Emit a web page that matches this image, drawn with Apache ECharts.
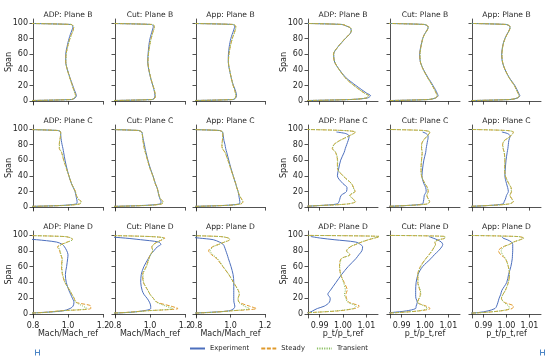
<!DOCTYPE html>
<html><head><meta charset="utf-8">
<script src="https://cdn.jsdelivr.net/npm/echarts@6/dist/echarts.min.js"></script>
<style>html,body{margin:0;padding:0;background:#fff}#c{width:550px;height:362px}</style>
</head><body><div id="c"></div>
<script>
// Spanwise stations (% span) shared by all profiles
const SPAN = [0.5, 2, 4, 7, 10, 15, 20, 25, 30, 40, 50, 60, 70, 75, 80, 85, 88, 91, 94, 96, 98, 99.5];

// Row 1: Plane B
const adpB_mach_exp = [0.70, 1.020, 1.040, 1.048, 1.044, 1.035, 1.027, 1.019, 1.011, 0.997, 0.987, 0.987, 0.995, 1.000, 1.006, 1.013, 1.018, 1.023, 1.027, 1.027, 1.017, 0.70];
const adpB_mach_std = [0.70, 1.020, 1.036, 1.044, 1.040, 1.032, 1.025, 1.017, 1.010, 0.996, 0.987, 0.989, 0.998, 1.004, 1.011, 1.019, 1.025, 1.030, 1.032, 1.030, 1.019, 0.70];
const adpB_mach_tr  = [0.70, 1.020, 1.036, 1.043, 1.039, 1.031, 1.024, 1.017, 1.010, 0.996, 0.988, 0.990, 0.999, 1.005, 1.012, 1.020, 1.026, 1.031, 1.033, 1.030, 1.019, 0.70];
const cutB_mach_exp = [0.70, 1.013, 1.025, 1.028, 1.027, 1.022, 1.016, 1.009, 1.003, 0.993, 0.987, 0.989, 0.993, 0.996, 1.000, 1.006, 1.010, 1.014, 1.018, 1.019, 1.008, 0.70];
const cutB_mach_std = [0.70, 1.015, 1.028, 1.031, 1.029, 1.024, 1.017, 1.010, 1.004, 0.994, 0.988, 0.991, 0.997, 1.001, 1.006, 1.012, 1.016, 1.020, 1.024, 1.025, 1.012, 0.70];
const cutB_mach_tr  = [0.70, 1.015, 1.028, 1.031, 1.029, 1.024, 1.017, 1.010, 1.004, 0.994, 0.988, 0.991, 0.998, 1.002, 1.007, 1.013, 1.017, 1.021, 1.025, 1.025, 1.012, 0.70];
const appB_mach_exp = [0.70, 1.015, 1.030, 1.035, 1.033, 1.026, 1.017, 1.010, 1.004, 0.994, 0.987, 0.988, 0.993, 0.997, 1.002, 1.009, 1.014, 1.019, 1.023, 1.024, 1.012, 0.70];
const appB_mach_std = [0.70, 1.015, 1.027, 1.031, 1.029, 1.023, 1.015, 1.009, 1.004, 0.995, 0.988, 0.991, 0.999, 1.004, 1.010, 1.018, 1.023, 1.027, 1.030, 1.030, 1.015, 0.70];
const appB_mach_tr  = [0.70, 1.015, 1.027, 1.031, 1.029, 1.023, 1.015, 1.009, 1.004, 0.995, 0.988, 0.991, 0.999, 1.005, 1.011, 1.019, 1.024, 1.028, 1.031, 1.030, 1.015, 0.70];
const adpB_pt_exp = [0.980, 1.003, 1.0105, 1.0118, 1.0102, 1.0078, 1.0055, 1.0033, 1.0012, 0.9985, 0.9964, 0.9960, 0.9980, 0.9995, 1.0010, 1.0027, 1.0034, 1.0035, 1.0029, 1.0014, 0.9995, 0.980];
const adpB_pt_std = [0.980, 1.003, 1.0100, 1.0110, 1.0093, 1.0069, 1.0047, 1.0026, 1.0009, 0.9984, 0.9964, 0.9959, 0.9980, 0.9994, 1.0009, 1.0026, 1.0033, 1.0037, 1.0031, 1.0016, 0.9997, 0.980];
const adpB_pt_tr  = [0.980, 1.003, 1.0100, 1.0108, 1.0092, 1.0068, 1.0046, 1.0026, 1.0009, 0.9984, 0.9965, 0.9960, 0.9980, 0.9994, 1.0009, 1.0026, 1.0033, 1.0037, 1.0031, 1.0016, 0.9997, 0.980];
const cutB_pt_exp = [0.980, 1.0015, 1.0046, 1.0056, 1.0052, 1.0044, 1.0034, 1.0024, 1.0013, 0.9994, 0.9980, 0.9977, 0.9982, 0.9986, 0.9990, 0.9997, 1.0003, 1.0009, 1.0013, 1.0011, 0.9997, 0.980];
const cutB_pt_std = [0.980, 1.0015, 1.0045, 1.0053, 1.0048, 1.0040, 1.0031, 1.0021, 1.0011, 0.9993, 0.9980, 0.9978, 0.9983, 0.9986, 0.9990, 0.9997, 1.0003, 1.0010, 1.0014, 1.0012, 0.9998, 0.980];
const cutB_pt_tr  = [0.980, 1.0015, 1.0044, 1.0052, 1.0048, 1.0040, 1.0031, 1.0021, 1.0011, 0.9993, 0.9981, 0.9979, 0.9983, 0.9987, 0.9991, 0.9998, 1.0004, 1.0010, 1.0014, 1.0012, 0.9998, 0.980];
const appB_pt_exp = [0.980, 1.0015, 1.0049, 1.0058, 1.0053, 1.0045, 1.0036, 1.0024, 1.0012, 0.9994, 0.9982, 0.9979, 0.9983, 0.9987, 0.9993, 1.0001, 1.0007, 1.0012, 1.0015, 1.0013, 0.9999, 0.980];
const appB_pt_std = [0.980, 1.0015, 1.0047, 1.0055, 1.0050, 1.0042, 1.0034, 1.0022, 1.0011, 0.9994, 0.9983, 0.9980, 0.9984, 0.9988, 0.9994, 1.0002, 1.0008, 1.0013, 1.0016, 1.0014, 1.0000, 0.980];
const appB_pt_tr  = [0.980, 1.0015, 1.0046, 1.0054, 1.0050, 1.0042, 1.0034, 1.0022, 1.0011, 0.9994, 0.9983, 0.9980, 0.9984, 0.9988, 0.9994, 1.0002, 1.0008, 1.0013, 1.0016, 1.0014, 1.0000, 0.980];

// Row 2: Plane C
const adpC_mach_exp = [0.70, 0.95, 1.048, 1.052, 1.050, 1.045, 1.040, 1.030, 1.020, 1.005, 0.993, 0.983, 0.975, 0.971, 0.966, 0.962, 0.960, 0.959, 0.958, 0.958, 0.940, 0.70];
const adpC_mach_std = [0.70, 0.97, 1.068, 1.076, 1.060, 1.048, 1.042, 1.031, 1.020, 1.005, 0.990, 0.975, 0.963, 0.950, 0.950, 0.952, 0.955, 0.957, 0.958, 0.958, 0.940, 0.70];
const adpC_mach_tr  = [0.70, 0.97, 1.066, 1.074, 1.059, 1.048, 1.042, 1.031, 1.020, 1.005, 0.990, 0.976, 0.964, 0.952, 0.951, 0.953, 0.955, 0.957, 0.958, 0.958, 0.940, 0.70];
const cutC_mach_exp = [0.70, 0.95, 1.058, 1.063, 1.058, 1.050, 1.046, 1.040, 1.031, 1.017, 1.001, 0.988, 0.977, 0.972, 0.968, 0.963, 0.960, 0.958, 0.956, 0.953, 0.935, 0.70];
const cutC_mach_std = [0.70, 0.97, 1.068, 1.075, 1.062, 1.052, 1.046, 1.040, 1.030, 1.016, 0.999, 0.986, 0.973, 0.967, 0.963, 0.960, 0.958, 0.957, 0.955, 0.952, 0.935, 0.70];
const cutC_mach_tr  = [0.70, 0.97, 1.066, 1.073, 1.061, 1.052, 1.046, 1.040, 1.030, 1.016, 0.999, 0.986, 0.974, 0.968, 0.964, 0.960, 0.958, 0.957, 0.955, 0.952, 0.935, 0.70];
const appC_mach_exp = [0.70, 0.95, 1.050, 1.054, 1.052, 1.048, 1.044, 1.037, 1.030, 1.016, 1.002, 0.990, 0.978, 0.972, 0.968, 0.962, 0.960, 0.958, 0.956, 0.954, 0.935, 0.70];
const appC_mach_std = [0.70, 0.96, 1.060, 1.073, 1.065, 1.052, 1.044, 1.036, 1.030, 1.015, 1.000, 0.985, 0.968, 0.952, 0.950, 0.953, 0.954, 0.955, 0.955, 0.954, 0.935, 0.70];
const appC_mach_tr  = [0.70, 0.96, 1.058, 1.071, 1.064, 1.052, 1.044, 1.036, 1.030, 1.015, 1.000, 0.985, 0.969, 0.954, 0.951, 0.953, 0.954, 0.955, 0.955, 0.954, 0.935, 0.70];
const adpC_pt_exp = [0.980, 0.990, 0.9975, 0.9983, 0.9986, 0.9992, 1.0015, 1.0017, 1.0000, 0.9976, 0.9982, 0.9990, 1.0005, 1.0010, 1.0016, 1.0022, 1.0025, 1.0026, 1.0012, 0.9972, null, null];
const adpC_pt_std = [0.980, 0.990, 1.002, 1.0054, 1.0045, 1.0030, 1.0052, 1.0045, 1.0037, 1.0000, 0.9976, 0.9976, 0.9968, 0.9954, 0.9961, 0.9985, 1.0005, 1.0025, 1.0045, 1.0054, 1.0000, 0.980];
const adpC_pt_tr  = [0.980, 0.990, 1.002, 1.0052, 1.0044, 1.0028, 1.0050, 1.0044, 1.0036, 1.0000, 0.9977, 0.9977, 0.9969, 0.9956, 0.9962, 0.9986, 1.0006, 1.0026, 1.0046, 1.0053, 1.0000, 0.980];
const cutC_pt_exp = [0.980, 0.992, 0.9990, 0.9993, 0.9995, 0.9997, 1.0005, 1.0003, 0.9995, 0.9987, 0.9990, 0.9995, 1.0003, 1.0005, 1.0008, 1.0011, 1.0013, 1.0013, 1.0005, 0.9990, null, null];
const cutC_pt_std = [0.980, 0.992, 1.001, 1.0020, 1.0015, 1.0008, 1.0014, 1.0010, 1.0000, 0.9985, 0.9983, 0.9985, 0.9988, 0.9985, 0.9985, 0.9992, 1.0000, 1.0010, 1.0018, 1.0021, 0.9995, 0.980];
const cutC_pt_tr  = [0.980, 0.992, 1.001, 1.0019, 1.0015, 1.0008, 1.0013, 1.0010, 1.0000, 0.9985, 0.9983, 0.9985, 0.9988, 0.9986, 0.9986, 0.9993, 1.0001, 1.0010, 1.0018, 1.0021, 0.9995, 0.980];
const appC_pt_exp = [0.980, 0.992, 0.9985, 0.9990, 0.9995, 1.0000, 1.0008, 1.0005, 1.0000, 0.9993, 0.9995, 0.9998, 1.0003, 1.0006, 1.0008, 1.0010, 1.0013, 1.0016, 1.0005, 0.9980, null, null];
const appC_pt_std = [0.980, 0.992, 1.001, 1.0030, 1.0025, 1.0015, 1.0022, 1.0020, 1.0010, 0.9995, 0.9992, 0.9993, 0.9990, 0.9985, 0.9983, 0.9990, 1.0005, 1.0018, 1.0027, 1.0030, 1.0000, 0.980];
const appC_pt_tr  = [0.980, 0.992, 1.001, 1.0029, 1.0024, 1.0015, 1.0021, 1.0019, 1.0010, 0.9995, 0.9992, 0.9993, 0.9990, 0.9986, 0.9984, 0.9991, 1.0005, 1.0018, 1.0027, 1.0030, 1.0000, 0.980];

// Row 3: Plane D
const adpD_mach_exp = [0.70, 0.85, 0.97, 1.012, 1.029, 1.034, 1.025, 1.015, 1.005, 0.990, 0.985, 0.992, 0.998, 1.000, 0.993, 0.980, 0.968, 0.935, 0.820, 0.70, 0.70, 0.70];
const adpD_mach_std = [0.70, 0.86, 0.95, 1.130, 1.130, 1.045, 1.035, 1.022, 1.010, 0.982, 0.968, 0.963, 0.966, 0.958, 0.952, 0.940, 0.962, 0.995, 1.025, 1.020, 0.980, 0.70];
const adpD_mach_tr  = [0.70, 0.87, 0.96, 1.110, 1.085, 1.045, 1.035, 1.022, 1.010, 0.983, 0.970, 0.965, 0.967, 0.960, 0.955, 0.945, 0.965, 0.998, 1.025, 1.020, 0.980, 0.70];
const cutD_mach_exp = [0.70, 0.87, 0.96, 1.004, 1.004, 0.997, 0.983, 0.965, 0.955, 0.947, 0.950, 0.965, 0.990, 1.003, 1.022, 1.042, 1.062, 1.050, 0.946, 0.860, 0.750, 0.70];
const cutD_mach_std = [0.70, 0.86, 0.97, 1.160, 1.120, 1.040, 1.019, 1.000, 0.988, 0.962, 0.958, 0.978, 0.993, 1.002, 1.015, 1.010, 1.020, 1.040, 1.070, 1.085, 1.000, 0.70];
const cutD_mach_tr  = [0.70, 0.87, 0.98, 1.130, 1.090, 1.038, 1.018, 1.000, 0.988, 0.964, 0.960, 0.980, 0.995, 1.004, 1.015, 1.012, 1.022, 1.042, 1.068, 1.080, 1.000, 0.70];
const appD_mach_exp = [0.70, 0.86, 0.99, 1.020, 1.025, 1.020, 1.019, 1.019, 1.019, 1.019, 1.015, 1.003, 0.988, 0.981, 0.973, 0.965, 0.958, 0.936, 0.900, 0.820, 0.740, 0.70];
const appD_mach_std = [0.70, 0.88, 1.00, 1.150, 1.110, 1.050, 1.044, 1.052, 1.045, 1.018, 0.990, 0.955, 0.920, 0.890, 0.873, 0.895, 0.930, 0.965, 0.995, 0.990, 0.940, 0.70];
const appD_mach_tr  = [0.70, 0.88, 1.00, 1.110, 1.080, 1.048, 1.044, 1.050, 1.044, 1.016, 0.990, 0.958, 0.925, 0.898, 0.882, 0.900, 0.932, 0.965, 0.993, 0.990, 0.940, 0.70];
const adpD_pt_exp = [0.980, 0.9855, 0.9870, 0.9890, 0.9920, 0.9942, 0.9945, 0.9935, 0.9946, 0.9970, 0.9994, 1.0022, 1.0055, 1.0068, 1.0081, 1.0084, 1.0075, 1.0055, 0.9962, 0.9904, 0.9862, null];
const adpD_pt_std = [0.980, 0.987, 0.998, 1.0050, 1.0070, 1.0025, 1.0015, 1.0012, 1.0018, 1.0005, 0.9990, 0.9985, 0.9992, 1.0030, 1.0015, 1.0032, 1.0055, 1.0080, 1.0110, 1.0135, 1.0160, 0.980];
const adpD_pt_tr  = [0.980, 0.987, 0.997, 1.0045, 1.0056, 1.0020, 1.0012, 1.0006, 1.0010, 1.0002, 0.9990, 0.9986, 0.9994, 1.0028, 1.0016, 1.0030, 1.0053, 1.0078, 1.0108, 1.0133, 1.0160, 0.980];
const cutD_pt_exp = [0.980, 0.9860, 0.9920, 0.9960, 0.9962, 0.9967, 0.9961, 0.9960, 0.9960, 0.9962, 0.9970, 0.9990, 1.0025, 1.0040, 1.0058, 1.0072, 1.0076, 1.0070, 1.0052, 1.0035, 1.0017, null];
const cutD_pt_std = [0.980, 0.989, 0.9975, 1.0022, 1.0005, 0.9968, 0.9975, 0.9980, 0.9978, 0.9969, 0.9969, 0.9980, 1.0003, 1.0017, 1.0030, 1.0040, 1.0045, 1.0042, 1.0060, 1.0085, 1.0085, 0.980];
const cutD_pt_tr  = [0.980, 0.989, 0.997, 1.0010, 0.9998, 0.9968, 0.9975, 0.9982, 0.9980, 0.9970, 0.9970, 0.9982, 1.0004, 1.0018, 1.0030, 1.0040, 1.0045, 1.0042, 1.0060, 1.0085, 1.0085, 0.980];
const appD_pt_exp = [0.980, 0.9880, 0.9920, 0.9950, 0.9957, 0.9963, 0.9968, 0.9975, 0.9980, 1.0001, 1.0009, 1.0019, 1.0025, 1.0026, 1.0027, 1.0027, 1.0027, 1.0022, 1.0003, 0.9985, 0.9980, null];
const appD_pt_std = [0.980, 0.990, 0.9975, 1.0025, 1.0030, 0.9990, 0.9978, 0.9985, 0.9995, 1.0008, 1.0013, 1.0008, 0.9995, 0.9975, 0.9965, 0.9985, 1.0012, 1.0030, 1.0060, 1.0075, 1.0050, 0.980];
const appD_pt_tr  = [0.980, 0.990, 0.9972, 1.0012, 1.0010, 0.9988, 0.9978, 0.9985, 0.9995, 1.0008, 1.0013, 1.0008, 0.9996, 0.9983, 0.9977, 0.9988, 1.0012, 1.0030, 1.0060, 1.0075, 1.0050, 0.980];

// Axis ticks
const SPAN_TICKS = [0, 20, 40, 60, 80, 100];
const MACH_TICKS = [0.8, 1.0, 1.2];
const PT_TICKS = [0.99, 1.00, 1.01];
const SERIES_NAMES = ['Experiment', 'Steady', 'Transient'];

const panels = [
  ['ADP: Plane B','mach',adpB_mach_exp,adpB_mach_std,adpB_mach_tr],
  ['Cut: Plane B','mach',cutB_mach_exp,cutB_mach_std,cutB_mach_tr],
  ['App: Plane B','mach',appB_mach_exp,appB_mach_std,appB_mach_tr],
  ['ADP: Plane B','pt',adpB_pt_exp,adpB_pt_std,adpB_pt_tr],
  ['Cut: Plane B','pt',cutB_pt_exp,cutB_pt_std,cutB_pt_tr],
  ['App: Plane B','pt',appB_pt_exp,appB_pt_std,appB_pt_tr],
  ['ADP: Plane C','mach',adpC_mach_exp,adpC_mach_std,adpC_mach_tr],
  ['Cut: Plane C','mach',cutC_mach_exp,cutC_mach_std,cutC_mach_tr],
  ['App: Plane C','mach',appC_mach_exp,appC_mach_std,appC_mach_tr],
  ['ADP: Plane C','pt',adpC_pt_exp,adpC_pt_std,adpC_pt_tr],
  ['Cut: Plane C','pt',cutC_pt_exp,cutC_pt_std,cutC_pt_tr],
  ['App: Plane C','pt',appC_pt_exp,appC_pt_std,appC_pt_tr],
  ['ADP: Plane D','mach',adpD_mach_exp,adpD_mach_std,adpD_mach_tr],
  ['Cut: Plane D','mach',cutD_mach_exp,cutD_mach_std,cutD_mach_tr],
  ['App: Plane D','mach',appD_mach_exp,appD_mach_std,appD_mach_tr],
  ['ADP: Plane D','pt',adpD_pt_exp,adpD_pt_std,adpD_pt_tr],
  ['Cut: Plane D','pt',cutD_pt_exp,cutD_pt_std,cutD_pt_tr],
  ['App: Plane D','pt',appD_pt_exp,appD_pt_std,appD_pt_tr]
];

const colLeft = [33, 115, 196, 308, 390, 472];
const colW = [70, 70, 69, 70, 70, 69];
const rowTop = [19, 125, 231];
const rowH = [86, 86, 87];
const titleY = [11.5, 117.5, 223.5];
const INK = '#262626';
const FONT = 'DejaVu Sans';
const COLORS = ['#4c6fbd', '#e09a2c', '#8cc063'];
const TYPES = ['solid', [4, 1.6], [1.2, 1.2]];

const grid = [], xAxis = [], yAxis = [], series = [], title = [];
panels.forEach((p, i) => {
  const r = Math.floor(i / 6), c = i % 6;
  grid.push({left: colLeft[c], top: rowTop[r], width: colW[c], height: rowH[r], containLabel: false});
  const isMach = p[1] === 'mach';
  const ticks = isMach ? MACH_TICKS : PT_TICKS;
  xAxis.push({
    type: 'value', gridIndex: i,
    min: isMach ? 0.8 : 0.985, max: isMach ? 1.2 : 1.015,
    axisLine: {show: true, lineStyle: {color: INK, width: 0.8}},
    axisTick: {show: true, length: 3.5, customValues: ticks, lineStyle: {color: INK, width: 0.8}},
    axisLabel: {show: r === 2, customValues: ticks, margin: 4, fontSize: 8, color: INK, fontFamily: FONT,
      formatter: v => isMach ? v.toFixed(1) : v.toFixed(2)},
    splitLine: {show: false},
    name: r === 2 ? (isMach ? 'Mach/Mach_ref' : 'p_t/p_t,ref') : '',
    nameLocation: 'middle', nameGap: 12, nameMoveOverlap: false,
    nameTextStyle: {fontSize: 8, color: INK, fontFamily: FONT}
  });
  const lab = (c === 0 || c === 3);
  yAxis.push({
    type: 'value', gridIndex: i, min: -5, max: 105,
    axisLine: {show: true, lineStyle: {color: INK, width: 0.8}},
    axisTick: {show: true, length: 3.5, customValues: SPAN_TICKS, lineStyle: {color: INK, width: 0.8}},
    axisLabel: {show: lab, customValues: SPAN_TICKS, margin: 5, fontSize: 8, color: INK, fontFamily: FONT},
    splitLine: {show: false},
    name: lab ? 'Span' : '', nameLocation: 'middle', nameGap: 20, nameRotate: 90, nameMoveOverlap: false,
    nameTextStyle: {fontSize: 8, color: INK, fontFamily: FONT}
  });
  title.push({text: p[0], left: colLeft[c] + colW[c] / 2, top: titleY[r], textAlign: 'center', padding: 0,
    textStyle: {fontSize: 7.6, fontWeight: 'normal', color: INK, fontFamily: FONT}});
  [2, 3, 4].forEach((k, j) => {
    const vals = p[k];
    const data = [];
    SPAN.forEach((s, m) => { if (vals[m] !== null) data.push([vals[m], s]); });
    series.push({
      name: SERIES_NAMES[j], type: 'line', xAxisIndex: i, yAxisIndex: i, data,
      symbol: 'none', smooth: 0.3, clip: true, silent: true, z: 2 + j,
      lineStyle: {color: COLORS[j], width: 1, type: TYPES[j]},
      itemStyle: {color: COLORS[j]}
    });
  });
});

const chart = echarts.init(document.getElementById('c'), null, {renderer: 'canvas'});
chart.setOption({
  animation: false,
  backgroundColor: '#ffffff',
  title, grid, xAxis, yAxis, series,
  legend: {
    data: SERIES_NAMES, left: 189, top: 345, itemWidth: 15, itemHeight: 8, itemGap: 11,
    itemStyle: {opacity: 0, borderWidth: 0},
    textStyle: {fontSize: 6.8, color: INK, fontFamily: FONT}, padding: 0
  },
  graphic: [
    {type: 'group', left: 33, top: 347, children: [
      {type: 'line', shape: {x1: 0, y1: 0, x2: 0, y2: 6}, style: {stroke: '#4d86c6', lineWidth: 1}},
      {type: 'line', shape: {x1: 4, y1: 0, x2: 4, y2: 6}, style: {stroke: '#4d86c6', lineWidth: 1}},
      {type: 'line', shape: {x1: 0, y1: 3, x2: 4, y2: 3}, style: {stroke: '#4d86c6', lineWidth: 1}}
    ]},
    {type: 'group', left: 538, top: 347, children: [
      {type: 'line', shape: {x1: 0, y1: 0, x2: 0, y2: 6}, style: {stroke: '#4d86c6', lineWidth: 1}},
      {type: 'line', shape: {x1: 4, y1: 0, x2: 4, y2: 6}, style: {stroke: '#4d86c6', lineWidth: 1}},
      {type: 'line', shape: {x1: 0, y1: 3, x2: 4, y2: 3}, style: {stroke: '#4d86c6', lineWidth: 1}}
    ]}
  ]
});
</script>
</body></html>
